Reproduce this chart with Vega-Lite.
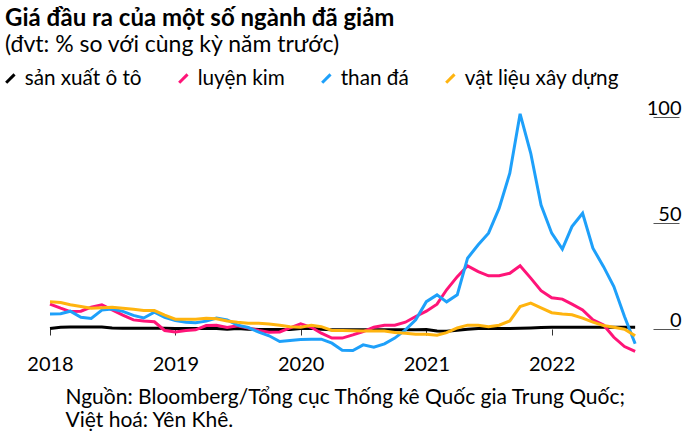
{
  "$schema": "https://vega.github.io/schema/vega-lite/v6.json",
  "autosize": {"type": "none"},
  "width": 603,
  "height": 248,
  "padding": {"left": 50, "top": 106, "right": 47, "bottom": 88},
  "background": "white",
  "config": {
    "view": {"stroke": null},
    "font": "Lato"
  },
  "title": {
    "text": "Giá đầu ra của một số ngành đã giảm",
    "subtitle": "(đvt: % so với cùng kỳ năm trước)",
    "anchor": "start",
    "frame": "group",
    "dx": -45,
    "font": "Lato",
    "fontSize": 24,
    "fontWeight": "bold",
    "color": "#000000",
    "subtitleFont": "Lato",
    "subtitleFontSize": 23,
    "subtitleColor": "#000000",
    "subtitlePadding": 3,
    "offset": 11
  },
  "data": {
    "values": [
      {"d": "2018-01-01", "sản xuất ô tô": 0.0, "luyện kim": 11.5, "than đá": 6.9, "vật liệu xây dựng": 12.6},
      {"d": "2018-02-01", "sản xuất ô tô": 0.6, "luyện kim": 9.6, "than đá": 7.0, "vật liệu xây dựng": 12.3},
      {"d": "2018-03-01", "sản xuất ô tô": 0.7, "luyện kim": 8.0, "than đá": 8.2, "vật liệu xây dựng": 11.2},
      {"d": "2018-04-01", "sản xuất ô tô": 0.7, "luyện kim": 8.2, "than đá": 5.3, "vật liệu xây dựng": 10.4},
      {"d": "2018-05-01", "sản xuất ô tô": 0.7, "luyện kim": 10.1, "than đá": 4.8, "vật liệu xây dựng": 9.6},
      {"d": "2018-06-01", "sản xuất ô tô": 0.7, "luyện kim": 11.2, "than đá": 8.7, "vật liệu xây dựng": 9.8},
      {"d": "2018-07-01", "sản xuất ô tô": 0.3, "luyện kim": 8.8, "than đá": 9.2, "vật liệu xây dựng": 10.1},
      {"d": "2018-08-01", "sản xuất ô tô": 0.1, "luyện kim": 6.3, "than đá": 8.1, "vật liệu xây dựng": 9.6},
      {"d": "2018-09-01", "sản xuất ô tô": 0.1, "luyện kim": 4.1, "than đá": 6.2, "vật liệu xây dựng": 9.1},
      {"d": "2018-10-01", "sản xuất ô tô": 0.1, "luyện kim": 3.6, "than đá": 5.0, "vật liệu xây dựng": 8.5},
      {"d": "2018-11-01", "sản xuất ô tô": 0.1, "luyện kim": 3.2, "than đá": 7.7, "vật liệu xây dựng": 8.5},
      {"d": "2018-12-01", "sản xuất ô tô": 0.1, "luyện kim": -0.9, "than đá": 5.3, "vật liệu xây dựng": 6.3},
      {"d": "2019-01-01", "sản xuất ô tô": 0.0, "luyện kim": -1.6, "than đá": 3.8, "vật liệu xây dựng": 4.4},
      {"d": "2019-02-01", "sản xuất ô tô": 0.0, "luyện kim": -0.9, "than đá": 3.0, "vật liệu xây dựng": 4.4},
      {"d": "2019-03-01", "sản xuất ô tô": 0.0, "luyện kim": -0.6, "than đá": 2.7, "vật liệu xây dựng": 4.4},
      {"d": "2019-04-01", "sản xuất ô tô": 0.0, "luyện kim": 1.4, "than đá": 3.5, "vật liệu xây dựng": 4.9},
      {"d": "2019-05-01", "sản xuất ô tô": 0.0, "luyện kim": 1.6, "than đá": 5.0, "vật liệu xây dựng": 4.6},
      {"d": "2019-06-01", "sản xuất ô tô": -0.3, "luyện kim": 0.5, "than đá": 4.1, "vật liệu xây dựng": 3.6},
      {"d": "2019-07-01", "sản xuất ô tô": 0.0, "luyện kim": 1.3, "than đá": 1.6, "vật liệu xây dựng": 3.0},
      {"d": "2019-08-01", "sản xuất ô tô": -0.3, "luyện kim": 0.3, "than đá": 0.5, "vật liệu xây dựng": 2.5},
      {"d": "2019-09-01", "sản xuất ô tô": -0.4, "luyện kim": -0.9, "than đá": -1.7, "vật liệu xây dựng": 2.5},
      {"d": "2019-10-01", "sản xuất ô tô": -0.4, "luyện kim": -1.7, "than đá": -3.4, "vật liệu xây dựng": 2.1},
      {"d": "2019-11-01", "sản xuất ô tô": -0.4, "luyện kim": -1.6, "than đá": -6.1, "vật liệu xây dựng": 1.6},
      {"d": "2019-12-01", "sản xuất ô tô": -0.4, "luyện kim": 0.3, "than đá": -5.6, "vật liệu xây dựng": 0.9},
      {"d": "2020-01-01", "sản xuất ô tô": 0.0, "luyện kim": 2.2, "than đá": -5.2, "vật liệu xây dựng": 0.6},
      {"d": "2020-02-01", "sản xuất ô tô": 0.2, "luyện kim": 0.6, "than đá": -5.0, "vật liệu xây dựng": 1.6},
      {"d": "2020-03-01", "sản xuất ô tô": -0.3, "luyện kim": -2.2, "than đá": -5.0, "vật liệu xây dựng": 0.9},
      {"d": "2020-04-01", "sản xuất ô tô": -0.6, "luyện kim": -4.5, "than đá": -6.9, "vật liệu xây dựng": -0.9},
      {"d": "2020-05-01", "sản xuất ô tô": -0.6, "luyện kim": -4.5, "than đá": -10.2, "vật liệu xây dựng": -0.9},
      {"d": "2020-06-01", "sản xuất ô tô": -0.6, "luyện kim": -3.0, "than đá": -10.4, "vật liệu xây dựng": -1.0},
      {"d": "2020-07-01", "sản xuất ô tô": -0.6, "luyện kim": -1.4, "than đá": -7.7, "vật liệu xây dựng": -1.1},
      {"d": "2020-08-01", "sản xuất ô tô": -0.6, "luyện kim": 0.6, "than đá": -8.8, "vật liệu xây dựng": -1.1},
      {"d": "2020-09-01", "sản xuất ô tô": -0.6, "luyện kim": 1.6, "than đá": -7.2, "vật liệu xây dựng": -1.1},
      {"d": "2020-10-01", "sản xuất ô tô": -0.6, "luyện kim": 1.6, "than đá": -4.5, "vật liệu xây dựng": -1.9},
      {"d": "2020-11-01", "sản xuất ô tô": -0.6, "luyện kim": 3.0, "than đá": -0.6, "vật liệu xây dựng": -2.2},
      {"d": "2020-12-01", "sản xuất ô tô": -0.6, "luyện kim": 5.7, "than đá": 4.1, "vật liệu xây dựng": -2.7},
      {"d": "2021-01-01", "sản xuất ô tô": -0.5, "luyện kim": 8.2, "than đá": 12.7, "vật liệu xây dựng": -2.7},
      {"d": "2021-02-01", "sản xuất ô tô": -1.2, "luyện kim": 11.5, "than đá": 15.9, "vật liệu xây dựng": -3.1},
      {"d": "2021-03-01", "sản xuất ô tô": -1.3, "luyện kim": 18.3, "than đá": 12.6, "vật liệu xây dựng": -1.9},
      {"d": "2021-04-01", "sản xuất ô tô": -0.8, "luyện kim": 24.5, "than đá": 15.9, "vật liệu xây dựng": 0.3},
      {"d": "2021-05-01", "sản xuất ô tô": -0.3, "luyện kim": 29.6, "than đá": 33.2, "vật liệu xây dựng": 1.6},
      {"d": "2021-06-01", "sản xuất ô tô": 0.0, "luyện kim": 26.9, "than đá": 39.5, "vật liệu xây dựng": 1.6},
      {"d": "2021-07-01", "sản xuất ô tô": 0.0, "luyện kim": 24.9, "than đá": 45.0, "vật liệu xây dựng": 0.9},
      {"d": "2021-08-01", "sản xuất ô tô": 0.0, "luyện kim": 24.9, "than đá": 56.8, "vật liệu xây dựng": 1.6},
      {"d": "2021-09-01", "sản xuất ô tô": 0.0, "luyện kim": 26.1, "than đá": 73.3, "vật liệu xây dựng": 3.6},
      {"d": "2021-10-01", "sản xuất ô tô": 0.2, "luyện kim": 29.6, "than đá": 101.3, "vật liệu xây dựng": 10.4},
      {"d": "2021-11-01", "sản xuất ô tô": 0.3, "luyện kim": 23.8, "than đá": 82.7, "vật liệu xây dựng": 12.0},
      {"d": "2021-12-01", "sản xuất ô tô": 0.5, "luyện kim": 17.9, "than đá": 58.3, "vật liệu xây dựng": 9.8},
      {"d": "2022-01-01", "sản xuất ô tô": 0.6, "luyện kim": 14.5, "than đá": 45.0, "vật liệu xây dựng": 7.5},
      {"d": "2022-02-01", "sản xuất ô tô": 0.6, "luyện kim": 13.9, "than đá": 37.5, "vật liệu xây dựng": 6.9},
      {"d": "2022-03-01", "sản xuất ô tô": 0.6, "luyện kim": 11.5, "than đá": 48.1, "vật liệu xây dựng": 6.5},
      {"d": "2022-04-01", "sản xuất ô tô": 0.6, "luyện kim": 8.8, "than đá": 54.4, "vật liệu xây dựng": 4.9},
      {"d": "2022-05-01", "sản xuất ô tô": 0.6, "luyện kim": 4.1, "than đá": 37.9, "vật liệu xây dựng": 3.0},
      {"d": "2022-06-01", "sản xuất ô tô": 0.6, "luyện kim": 1.7, "than đá": 29.2, "vật liệu xây dựng": 1.4},
      {"d": "2022-07-01", "sản xuất ô tô": 0.6, "luyện kim": -4.1, "than đá": 19.8, "vật liệu xây dựng": 0.6},
      {"d": "2022-08-01", "sản xuất ô tô": 0.6, "luyện kim": -8.5, "than đá": 5.7, "vật liệu xây dựng": -0.3},
      {"d": "2022-09-01", "sản xuất ô tô": 0.6, "luyện kim": -10.8, "than đá": -7.2, "vật liệu xây dựng": -3.4}
    ]
  },
  "transform": [
    {"fold": ["sản xuất ô tô", "luyện kim", "than đá", "vật liệu xây dựng"], "as": ["series", "value"]}
  ],
  "mark": {"type": "line", "strokeWidth": 3, "strokeJoin": "miter", "strokeCap": "butt"},
  "encoding": {
    "x": {
      "field": "d",
      "type": "temporal",
      "scale": {
        "type": "utc",
        "nice": false,
        "domain": [
          {"year": 2018, "month": 1, "date": 1, "utc": true},
          {"year": 2022, "month": 10, "date": 23, "utc": true}
        ]
      },
      "axis": {
        "values": [
          {"year": 2018, "month": 1, "date": 1, "utc": true},
          {"year": 2019, "month": 1, "date": 1, "utc": true},
          {"year": 2020, "month": 1, "date": 1, "utc": true},
          {"year": 2021, "month": 1, "date": 1, "utc": true},
          {"year": 2022, "month": 1, "date": 1, "utc": true}
        ],
        "format": "%Y",
        "offset": -25,
        "domain": false,
        "grid": false,
        "ticks": true,
        "tickSize": 6,
        "tickColor": "#333333",
        "tickWidth": 1,
        "labelFont": "Lato",
        "labelFontSize": 20,
        "labelColor": "#000000",
        "labelPadding": 19,
        "labelFlush": false,
        "title": ["Nguồn: Bloomberg/Tổng cục Thống kê Quốc gia Trung Quốc;", "Việt hoá: Yên Khê."],
        "titleAnchor": "start",
        "titleAlign": "left",
        "titleBaseline": "top",
        "titleX": 15,
        "titleFont": "Lato",
        "titleFontSize": 21,
        "titleFontWeight": "normal",
        "titleColor": "#000000",
        "titleLineHeight": 23,
        "titlePadding": 12
      }
    },
    "y": {
      "field": "value",
      "type": "quantitative",
      "scale": {"domain": [-12, 105], "nice": false, "zero": false},
      "axis": {
        "orient": "right",
        "values": [0, 50, 100],
        "domain": false,
        "grid": false,
        "ticks": true,
        "tickSize": 26,
        "tickColor": "#555555",
        "tickWidth": 1,
        "labelAlign": "right",
        "labelBaseline": "alphabetic",
        "labelOffset": -2,
        "labelPadding": 2,
        "labelFont": "Lato",
        "labelFontSize": 20,
        "labelColor": "#000000",
        "title": null
      }
    },
    "color": {
      "field": "series",
      "type": "nominal",
      "scale": {
        "domain": ["sản xuất ô tô", "luyện kim", "than đá", "vật liệu xây dựng"],
        "range": ["#000000", "#ff1478", "#1ea0fa", "#ffb40f"]
      },
      "legend": {
        "orient": "none",
        "legendX": -50,
        "legendY": -38,
        "direction": "horizontal",
        "title": null,
        "symbolType": "M-1,1L1,-1",
        "symbolSize": 70,
        "symbolStrokeWidth": 3,
        "labelFont": "Lato",
        "labelFontSize": 20.7,
        "labelColor": "#000000",
        "labelOffset": 4,
        "columnPadding": 31
      }
    }
  }
}
